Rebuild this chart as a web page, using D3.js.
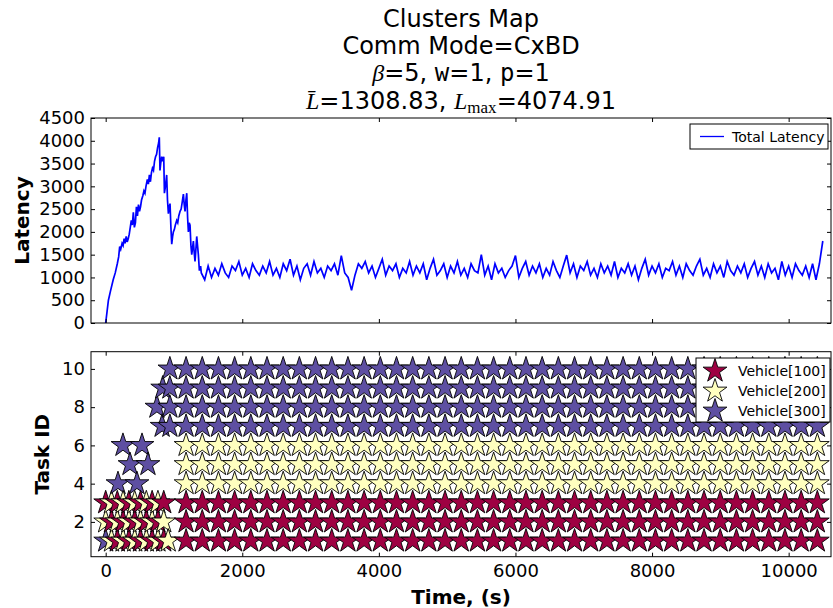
<!DOCTYPE html>
<html>
<head>
<meta charset="utf-8">
<script src="https://cdn.jsdelivr.net/npm/d3@7"></script>
<style>
  body { margin: 0; background: #fff; }
  text { font-family: "DejaVu Sans", sans-serif; fill: #000; }
</style>
</head>
<body>
<div id="chart"></div>
<script>
// ---- data ----
// ramp-up part of the latency curve: [time, latency]
var latencyRamp = [[0,0],[20,250],[40,500],[70,700],[110,950],[140,1100],[170,1300],[190,1450],[205,1680],
  [220,1620],[240,1750],[255,1700],[270,1850],[285,1750],[300,1900],[315,1780],[330,1850],[345,1950],
  [360,2100],[375,2250],[390,2150],[405,2430],[420,2100],[435,2200],[450,2550],[465,2350],[480,2600],
  [495,2450],[510,2550],[525,2700],[545,2800],[560,2900],[575,2850],[590,3000],[610,3150],[625,3050],
  [640,3250],[655,3100],[670,3300],[685,3400],[700,3350],[715,3550],[730,3650],[745,3700],[760,3850],
  [775,3950],[785,4075],[795,3350],[805,3500],[820,3650],[835,3550],[850,3650],[860,2850],[875,3000],
  [893,3250],[905,2700],[918,2400],[930,2550],[942,2620],[955,2100],[967,1730],[980,1900],[991,2000],
  [1005,2050],[1020,2150],[1040,2250],[1055,2200],[1070,2350],[1089,2450],[1105,2500],[1120,2650],
  [1138,2830],[1150,2600],[1162,2450],[1175,2700],[1187,2850],[1200,2300],[1211,2000],[1223,2200],
  [1235,2150],[1248,1700],[1260,1500],[1272,1650],[1284,1800],[1296,1550],[1308,1350],[1320,1600],
  [1333,1900],[1345,1700],[1357,1500],[1372,1150],[1390,1250]];

// steady part, one reading every 50 s starting at t = 1400
var steadyStart = 1400, steadyStep = 50;
var latencySteady = [
  1100, 950, 1250, 1000, 1200, 1050, 1300, 1100, 1000, 1250, 1150, 1350, 1050, 1200, 1000, 1300, 1150, 1050, 1250, 1100, 1350,
  1050, 1200, 1000, 1300, 1150, 1400, 1050, 1250, 950, 1200, 1300, 1050, 1350, 1100, 1200, 1000, 1250, 1150, 1300, 1050,
  1480, 1100, 1000, 720, 1050, 1300, 1200, 1350, 1100, 1250, 1000, 1200, 1400, 1050, 1250, 1150, 1300, 1000, 1200, 1100,
  1350, 1050, 1250, 1100, 1300, 950, 1200, 1400, 1050, 1150, 1300, 1000, 1250, 1100, 1350, 1050, 1200, 1000, 1300, 1150,
  1100, 1500, 1050, 1250, 950, 1300, 1100, 1200, 1000, 1150, 1250, 1480, 1000, 1200, 1350, 1050, 1250, 1100, 1300, 1000,
  1200, 1050, 1350, 1150, 1000, 1250, 1490, 1100, 1300, 1000, 1250, 1150, 1350, 1050, 1200, 1000, 1300, 1100, 1250, 1050,
  1350, 1000, 1200, 1100, 1300, 1050, 1250, 950, 1200, 1400, 1050, 1250, 1100, 1300, 1000, 1200, 1150, 1350, 1050, 1250,
  1000, 1300, 1150, 1050, 1250, 1400, 1050, 1200, 1000, 1300, 1100, 1250, 1000, 1350, 1150, 1050, 1250, 1100, 1300, 1000,
  1200, 1350, 1050, 1250, 1000, 1300, 1100, 1200, 950, 1350, 1050, 1250, 1000, 1300, 1150, 1050, 1250, 1000, 1300, 950];
var latencyTail = [[10450,1300],[10500,1800]];

// task assignment columns (time of each report, s)
var gridTimes = [940, 1177, 1414, 1651, 1888, 2125, 2362, 2599, 2836, 3073, 3310, 3547, 3784, 4021, 4258,
  4495, 4732, 4969, 5206, 5443, 5680, 5917, 6154, 6391, 6628, 6865, 7102, 7339, 7576, 7813, 8050, 8287,
  8524, 8761, 8998, 9235, 9472, 9709, 9946, 10183, 10420];
var taskIds      = [1, 2, 3, 4, 5, 6, 7, 8, 9, 10];
var taskVehicle  = [100, 100, 100, 200, 200, 200, 300, 300, 300, 300];
var taskFirstCol = [1, 1, 1, 1, 1, 1, 0, 0, 0, 0];

// early assignments before the clusters settle: [time, task, vehicle]
var earlyTasks = [
  [0,1,300],[85,1,200],[170,1,100],[255,1,200],[340,1,100],[425,1,200],[510,1,100],[595,1,200],[680,1,100],[765,1,200],[850,1,100],[915,1,200],
  [0,2,200],[85,2,100],[170,2,200],[255,2,100],[340,2,200],[425,2,100],[510,2,200],[595,2,100],[680,2,200],[765,2,100],[850,2,200],
  [0,3,100],[85,3,200],[170,3,100],[255,3,200],[340,3,100],[425,3,200],[510,3,100],[595,3,200],[680,3,100],[765,3,200],[850,3,100],
  [180,4,300],[253,6,300],[356,5,300],[458,4,300],[532,6,300],[619,5,300],
  [750,8,300],[826,7,300],[835,9,300]];

var vehicles = [100, 200, 300];
var vehicleColor = {100: "#9e0142", 200: "#ffffbf", 300: "#5e4fa2"};
var vehicleNames = ["Vehicle[100]", "Vehicle[200]", "Vehicle[300]"];

var xTicks = [0, 2000, 4000, 6000, 8000, 10000];
var latTicks = [0, 500, 1000, 1500, 2000, 2500, 3000, 3500, 4000, 4500];
var taskTicks = [2, 4, 6, 8, 10];

// ---- layout ----
var width = 833, height = 608;
var left = 91, right = 831;
var top1 = 118, bot1 = 323;
var top2 = 351.7, bot2 = 556.7;

var svg = d3.select("#chart").append("svg")
    .attr("width", width)
    .attr("height", height);

var x = d3.scaleLinear().domain([-215, 10620]).range([left, right]);
var yLat = d3.scaleLinear().domain([0, 4500]).range([bot1, top1]);
var yTask = d3.scaleLinear().domain([0.18, 10.9]).range([bot2, top2]);

// titles
var title = svg.append("g").attr("class", "title").attr("text-anchor", "middle").style("font-size", "24px");
var cx = (left + right) / 2;
title.append("text").attr("x", cx).attr("y", 27).text("Clusters Map");
title.append("text").attr("x", cx).attr("y", 54).text("Comm Mode=CxBD");
var t3 = title.append("text").attr("x", cx).attr("y", 81);
t3.append("tspan").style("font-family", "Liberation Serif").style("font-style", "italic").text("\u03b2");
t3.append("tspan").text("=5, ");
t3.append("tspan").style("font-family", "DejaVu Sans Mono").text("w");
t3.append("tspan").text("=1, ");
t3.append("tspan").style("font-family", "DejaVu Sans Mono").text("p");
t3.append("tspan").text("=1");
var t4 = title.append("text").attr("x", cx).attr("y", 109);
t4.append("tspan").style("font-family", "Liberation Serif").style("font-style", "italic").text("L\u0304");
t4.append("tspan").text("=1308.83, ");
t4.append("tspan").style("font-family", "Liberation Serif").style("font-style", "italic").text("L");
t4.append("tspan").style("font-family", "Liberation Serif").style("font-size", "17px").attr("dy", 4).text("max");
t4.append("tspan").attr("dy", -4).text("=4074.91");

// ---- axes helper ----
function frame(y0, y1, yScale, yTicks, labelX) {
    var g = svg.append("g");
    g.append("g").attr("transform", "translate(0," + y1 + ")")
        .call(d3.axisBottom(x).tickValues(xTicks).tickSize(-4).tickPadding(8).tickFormat(labelX ? d3.format("d") : ""));
    g.append("g").attr("transform", "translate(0," + y0 + ")")
        .call(d3.axisTop(x).tickValues(xTicks).tickSize(-4).tickFormat(""));
    g.append("g").attr("transform", "translate(" + left + ",0)")
        .call(d3.axisLeft(yScale).tickValues(yTicks).tickSize(-4).tickPadding(6).tickFormat(d3.format("d")));
    g.append("g").attr("transform", "translate(" + right + ",0)")
        .call(d3.axisRight(yScale).tickValues(yTicks).tickSize(-4).tickFormat(""));
    g.selectAll(".domain").remove();
    g.selectAll(".tick text").style("font-size", "18px").style("font-family", "DejaVu Sans");
    g.selectAll(".tick line").attr("stroke", "#000");
    g.append("rect").attr("x", left).attr("y", y0).attr("width", right - left).attr("height", y1 - y0)
        .attr("fill", "none").attr("stroke", "#000").attr("stroke-width", 1);
}

// ---- top: latency ----
var latencyPoints = latencyRamp
    .concat(latencySteady.map(function(v, i) { return [steadyStart + i * steadyStep, v]; }))
    .concat(latencyTail);

svg.append("path")
    .datum(latencyPoints)
    .attr("fill", "none")
    .attr("stroke", "#0000ff")
    .attr("stroke-width", 1.7)
    .attr("d", d3.line().x(function(d) { return x(d[0]); }).y(function(d) { return yLat(d[1]); }));

frame(top1, bot1, yLat, latTicks, false);

// legend top
var lg1 = svg.append("g");
lg1.append("rect").attr("x", 690).attr("y", 124).attr("width", 138).attr("height", 25)
    .attr("fill", "#fff").attr("stroke", "#000");
lg1.append("line").attr("x1", 700).attr("x2", 724).attr("y1", 136.5).attr("y2", 136.5)
    .attr("stroke", "#0000ff").attr("stroke-width", 1.3);
lg1.append("text").attr("x", 732).attr("y", 141.5).style("font-size", "14px").text("Total Latency");

// ---- bottom: tasks ----
function starPath(R) {
    var pts = [];
    for (var i = 0; i < 10; i++) {
        var a = -Math.PI / 2 + i * Math.PI / 5;
        var r = i % 2 === 0 ? R : R * 0.382;
        pts.push([r * Math.cos(a), r * Math.sin(a)]);
    }
    return "M" + pts.join("L") + "Z";
}
var star = starPath(12.5);

svg.append("clipPath").attr("id", "clip2").append("rect")
    .attr("x", left).attr("y", top2).attr("width", right - left).attr("height", bot2 - top2);

var stars = earlyTasks.map(function(d) { return {t: d[0], task: d[1], v: d[2]}; });
taskIds.forEach(function(task, i) {
    gridTimes.forEach(function(t, c) {
        if (c >= taskFirstCol[i]) stars.push({t: t, task: task, v: taskVehicle[i]});
    });
});
// markers are drawn in the order they were reported
stars.sort(function(a, b) { return a.t - b.t || a.task - b.task; });

svg.append("g").attr("clip-path", "url(#clip2)")
    .selectAll("path")
    .data(stars).enter()
    .append("path")
    .attr("d", star)
    .attr("transform", function(d) { return "translate(" + x(d.t) + "," + yTask(d.task) + ")"; })
    .attr("fill", function(d) { return vehicleColor[d.v]; })
    .attr("stroke", "#000")
    .attr("stroke-width", 0.9);

frame(top2, bot2, yTask, taskTicks, true);

// legend bottom
var lg2 = svg.append("g");
lg2.append("rect").attr("x", 696).attr("y", 358).attr("width", 134).attr("height", 64)
    .attr("fill", "#fff").attr("stroke", "#000");
vehicles.forEach(function(v, i) {
    lg2.append("path").attr("d", star)
        .attr("transform", "translate(715," + (371 + i * 20) + ")")
        .attr("fill", vehicleColor[v]).attr("stroke", "#000").attr("stroke-width", 0.9);
    lg2.append("text").attr("x", 738).attr("y", 376 + i * 20).style("font-size", "14px").text(vehicleNames[i]);
});

// axis labels
svg.append("text").attr("transform", "translate(29," + ((top1 + bot1) / 2) + ") rotate(-90)")
    .attr("text-anchor", "middle").style("font-size", "20px").style("font-weight", "bold").text("Latency");
svg.append("text").attr("transform", "translate(49," + ((top2 + bot2) / 2) + ") rotate(-90)")
    .attr("text-anchor", "middle").style("font-size", "20px").style("font-weight", "bold").text("Task ID");
svg.append("text").attr("x", cx).attr("y", 604)
    .attr("text-anchor", "middle").style("font-size", "20px").style("font-weight", "bold").text("Time, (s)");
</script>
</body>
</html>
